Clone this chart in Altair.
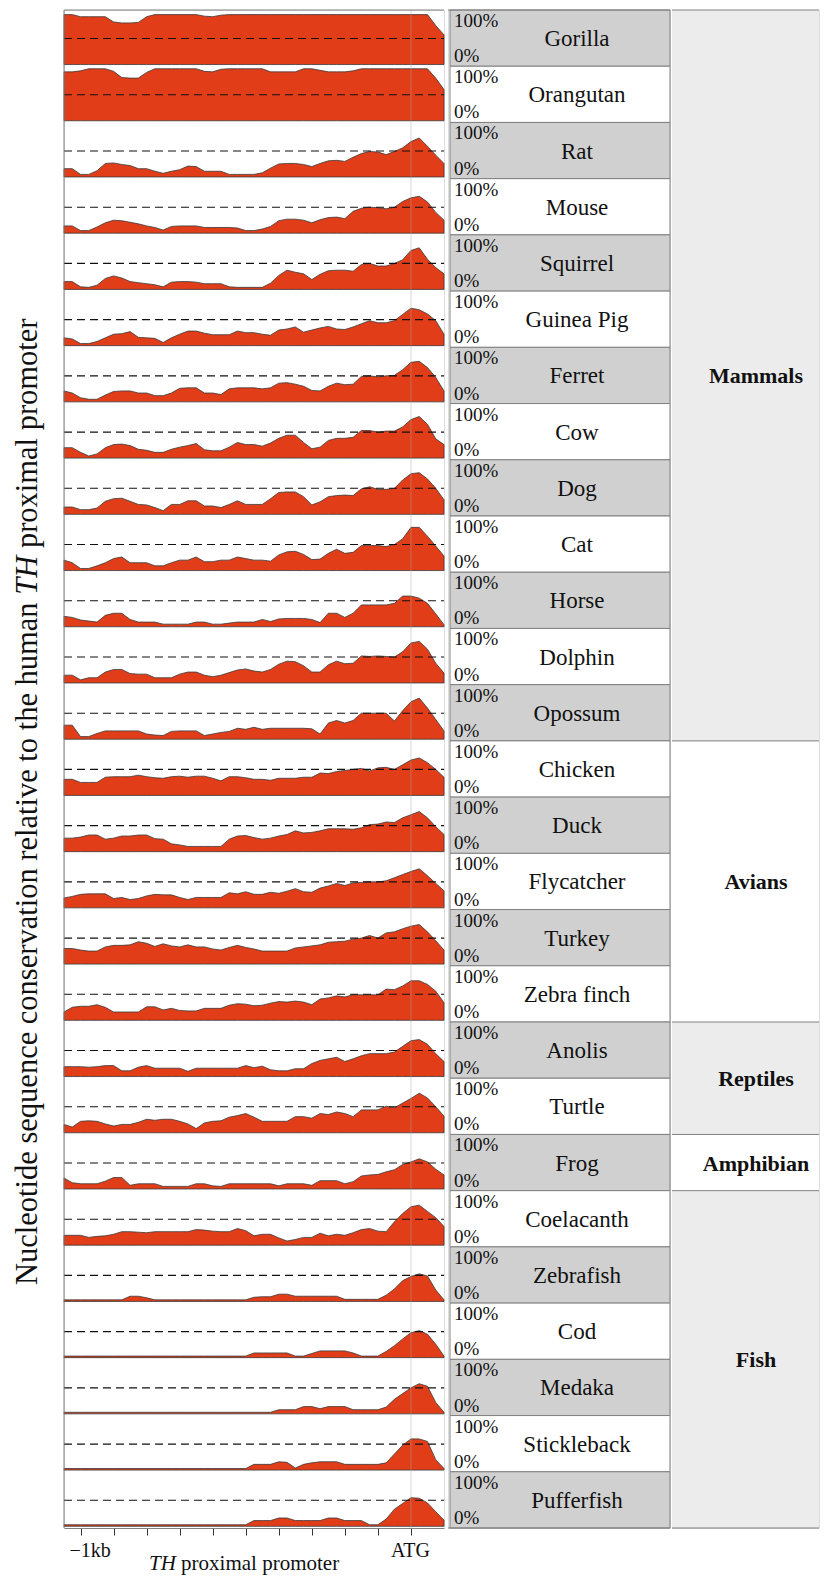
import altair as alt
import pandas as pd

# ---------------- data ----------------
SPECIES = ["Gorilla", "Orangutan", "Rat", "Mouse", "Squirrel", "Guinea Pig", "Ferret",
           "Cow", "Dog", "Cat", "Horse", "Dolphin", "Opossum", "Chicken", "Duck",
           "Flycatcher", "Turkey", "Zebra finch", "Anolis", "Turtle", "Frog",
           "Coelacanth", "Zebrafish", "Cod", "Medaka", "Stickleback", "Pufferfish"]
GROUPS = ["Mammals", "Avians", "Reptiles", "Amphibian", "Fish"]
GROUP_SIZES = [13, 5, 2, 1, 6]

# position relative to ATG (bp)
POSITION_BP = [-1050, -1025, -1000, -975, -950, -925, -900, -875, -850, -825, -800, -775,
               -750, -725, -700, -675, -650, -625, -600, -575, -550, -525, -500, -475,
               -450, -425, -400, -375, -350, -325, -300, -275, -250, -225, -200, -175,
               -150, -125, -100, -75, -50, -25, 0, 25, 50, 75, 100]
TICK_VALUES = [-1000, -900, -800, -700, -600, -500, -400, -300, -200, -100, 0]
ATG_BP = 0

# conservation (%) along the promoter
GORILLA = [96, 96, 92, 92, 92, 92, 82, 80, 80, 81, 92, 96, 96, 96, 96, 96, 96, 93, 92, 95,
           96, 96, 96, 96, 96, 96, 96, 96, 96, 96, 96, 96, 96, 96, 96, 96, 96, 96, 96, 96,
           96, 96, 96, 96, 96, 75, 57]
ORANGUTAN = [94, 94, 96, 100, 100, 100, 95, 83, 82, 82, 93, 100, 100, 100, 100, 100, 100, 95,
             94, 99, 100, 100, 100, 100, 100, 94, 94, 94, 94, 100, 100, 97, 94, 94, 94, 96,
             100, 100, 100, 100, 100, 100, 100, 100, 100, 82, 60]
RAT = [16, 16, 5, 5, 12, 26, 27, 24, 22, 16, 16, 11, 7, 11, 14, 21, 20, 11, 11, 11, 5, 5, 5,
       5, 8, 17, 25, 26, 26, 24, 20, 26, 31, 32, 30, 38, 45, 49, 48, 43, 49, 56, 68, 75, 59,
       42, 26]
MOUSE = [14, 14, 5, 5, 12, 20, 25, 24, 21, 18, 14, 11, 6, 13, 14, 14, 14, 11, 11, 11, 11, 10,
         5, 5, 8, 13, 24, 27, 27, 25, 20, 26, 30, 31, 28, 42, 48, 50, 49, 47, 50, 61, 68, 71,
         60, 40, 25]
SQUIRREL = [15, 15, 5, 4, 8, 21, 26, 22, 15, 13, 11, 9, 5, 14, 15, 15, 14, 11, 11, 11, 5, 4,
            4, 4, 4, 12, 27, 37, 33, 30, 19, 29, 36, 37, 37, 35, 48, 50, 45, 45, 50, 57, 75,
            80, 58, 42, 30]
GUINEA_PIG = [15, 13, 4, 4, 8, 15, 22, 23, 27, 16, 15, 14, 6, 15, 22, 28, 28, 24, 21, 21, 21,
              28, 25, 25, 22, 20, 30, 32, 36, 26, 30, 34, 37, 32, 31, 36, 42, 48, 44, 44, 48,
              60, 72, 69, 61, 48, 22]
FERRET = [21, 17, 8, 5, 5, 13, 20, 21, 21, 17, 17, 12, 12, 17, 26, 27, 27, 17, 17, 14, 25, 27,
          27, 27, 25, 27, 36, 37, 34, 30, 22, 21, 30, 36, 33, 34, 49, 50, 48, 50, 51, 62, 76,
          78, 66, 47, 21]
COW = [20, 20, 11, 4, 8, 20, 26, 27, 24, 17, 15, 11, 11, 17, 21, 24, 28, 16, 14, 14, 21, 30,
       26, 26, 23, 29, 38, 44, 44, 30, 18, 21, 34, 38, 38, 40, 53, 53, 50, 52, 52, 60, 74, 80,
       65, 37, 26]
DOG = [14, 14, 9, 9, 12, 25, 30, 31, 25, 19, 18, 13, 7, 19, 19, 26, 26, 16, 16, 13, 19, 26,
       19, 19, 19, 30, 42, 43, 43, 34, 18, 24, 34, 36, 37, 36, 49, 53, 48, 48, 50, 66, 78, 80,
       68, 50, 28]
CAT = [20, 15, 4, 4, 9, 15, 23, 26, 15, 15, 15, 9, 9, 15, 20, 20, 26, 17, 17, 20, 20, 26, 23,
       20, 20, 18, 30, 36, 37, 31, 21, 22, 33, 41, 33, 35, 48, 48, 48, 46, 50, 61, 83, 83, 66,
       47, 28]
HORSE = [20, 18, 13, 11, 9, 22, 26, 26, 14, 9, 9, 9, 5, 5, 5, 5, 9, 9, 5, 5, 7, 9, 9, 9, 14,
         10, 15, 16, 16, 16, 14, 8, 26, 26, 18, 26, 42, 42, 42, 42, 45, 59, 59, 55, 45, 25, 4]
DOLPHIN = [15, 15, 6, 10, 10, 21, 26, 26, 18, 17, 17, 10, 10, 10, 17, 21, 21, 15, 12, 15, 20,
           25, 27, 23, 21, 26, 36, 42, 41, 33, 21, 21, 35, 42, 37, 38, 52, 51, 52, 51, 50, 60,
           77, 80, 65, 38, 19]
OPOSSUM = [27, 27, 5, 5, 11, 16, 16, 16, 16, 16, 10, 8, 7, 15, 16, 16, 16, 7, 10, 13, 15, 21,
           19, 23, 19, 21, 21, 21, 21, 21, 20, 10, 31, 36, 31, 36, 50, 50, 50, 50, 35, 55, 72,
           79, 60, 38, 16]
CHICKEN = [31, 31, 25, 25, 25, 35, 36, 36, 36, 39, 36, 34, 33, 36, 37, 35, 37, 37, 33, 28, 36,
           36, 34, 31, 31, 29, 33, 33, 33, 35, 35, 43, 42, 46, 48, 50, 52, 47, 53, 54, 50, 59,
           68, 72, 63, 50, 35]
DUCK = [26, 26, 28, 32, 32, 24, 26, 30, 30, 32, 32, 25, 24, 15, 13, 10, 10, 10, 10, 10, 24, 30,
        31, 27, 24, 26, 30, 33, 40, 36, 37, 40, 44, 44, 44, 43, 46, 52, 53, 57, 56, 65, 71, 77,
        65, 48, 33]
FLYCATCHER = [19, 22, 26, 27, 27, 27, 18, 20, 16, 18, 23, 26, 25, 25, 20, 16, 20, 20, 20, 20,
              29, 27, 31, 26, 26, 30, 28, 32, 37, 31, 30, 38, 42, 47, 43, 48, 49, 50, 50, 52,
              58, 64, 70, 75, 62, 47, 33]
TURKEY = [30, 30, 27, 25, 25, 33, 36, 36, 37, 43, 40, 34, 39, 35, 33, 37, 33, 33, 29, 27, 32,
          36, 32, 29, 25, 25, 25, 25, 31, 33, 35, 37, 42, 43, 44, 48, 50, 55, 50, 60, 62, 68,
          73, 76, 62, 45, 27]
ZEBRA_FINCH = [16, 25, 27, 27, 30, 25, 16, 16, 16, 16, 26, 26, 20, 23, 19, 18, 18, 23, 23, 23,
               29, 32, 31, 28, 29, 33, 36, 35, 37, 35, 30, 41, 43, 47, 45, 49, 49, 49, 49, 60,
               59, 66, 76, 76, 69, 56, 34]
ANOLIS = [19, 19, 19, 18, 19, 21, 21, 11, 11, 18, 21, 16, 16, 16, 16, 10, 16, 16, 16, 16, 16,
          16, 21, 17, 20, 13, 11, 11, 15, 15, 25, 31, 34, 37, 29, 34, 40, 44, 44, 44, 47, 58,
          69, 71, 62, 44, 29]
TURTLE = [16, 11, 22, 23, 22, 17, 13, 16, 16, 20, 26, 24, 26, 26, 22, 17, 8, 19, 22, 23, 30,
          33, 37, 30, 22, 22, 22, 22, 31, 31, 28, 37, 35, 40, 37, 31, 44, 44, 44, 51, 48, 57,
          66, 76, 67, 50, 32]
FROG = [21, 12, 10, 10, 10, 15, 22, 22, 7, 10, 10, 10, 5, 5, 5, 5, 10, 10, 6, 5, 10, 10, 10,
        10, 10, 10, 6, 10, 10, 10, 7, 16, 16, 16, 10, 14, 25, 27, 28, 33, 37, 47, 52, 58, 52,
        38, 27]
COELACANTH = [19, 19, 19, 15, 17, 18, 21, 26, 26, 25, 24, 26, 26, 26, 26, 26, 30, 29, 27, 26,
              26, 32, 28, 18, 21, 21, 14, 8, 11, 15, 15, 23, 18, 21, 19, 24, 30, 32, 27, 26,
              45, 61, 74, 77, 65, 53, 36]
ZEBRAFISH = [3, 3, 3, 3, 3, 3, 3, 3, 10, 10, 7, 3, 3, 3, 3, 3, 3, 3, 3, 3, 3, 3, 3, 8, 9, 9,
             14, 14, 10, 10, 10, 10, 10, 10, 4, 4, 4, 4, 4, 12, 24, 40, 48, 53, 49, 22, 3]
COD = [3, 3, 3, 3, 3, 3, 3, 3, 3, 3, 3, 3, 3, 3, 3, 3, 3, 3, 3, 3, 3, 3, 3, 9, 9, 9, 9, 9, 3,
       3, 8, 13, 13, 13, 13, 9, 3, 3, 3, 12, 23, 36, 48, 52, 45, 26, 3]
MEDAKA = [3, 3, 3, 3, 3, 3, 3, 3, 3, 3, 3, 3, 3, 3, 3, 3, 3, 3, 3, 3, 3, 3, 3, 3, 3, 3, 8, 8,
          8, 14, 14, 10, 14, 14, 14, 8, 8, 8, 8, 13, 28, 39, 50, 58, 53, 22, 3]
STICKLEBACK = [3, 3, 3, 3, 3, 3, 3, 3, 3, 3, 3, 3, 3, 3, 3, 3, 3, 3, 3, 3, 3, 3, 3, 11, 11, 11,
               16, 15, 4, 11, 14, 16, 16, 16, 11, 11, 11, 11, 11, 14, 31, 48, 60, 60, 55, 20, 3]
PUFFERFISH = [3, 3, 3, 3, 3, 3, 3, 3, 3, 3, 3, 3, 3, 3, 3, 3, 3, 3, 3, 3, 3, 3, 3, 11, 11, 11,
              16, 16, 11, 11, 11, 11, 16, 16, 11, 11, 11, 3, 3, 14, 33, 44, 55, 54, 45, 28, 12]

SERIES = [GORILLA, ORANGUTAN, RAT, MOUSE, SQUIRREL, GUINEA_PIG, FERRET, COW, DOG, CAT, HORSE,
          DOLPHIN, OPOSSUM, CHICKEN, DUCK, FLYCATCHER, TURKEY, ZEBRA_FINCH, ANOLIS, TURTLE,
          FROG, COELACANTH, ZEBRAFISH, COD, MEDAKA, STICKLEBACK, PUFFERFISH]

# ---------------- style ----------------
RED = "#E13D19"
OUTLINE = "#3a3a3a"
BORDER = "#808080"
CELL_GRAY = "#d0d0d0"
GROUP_GRAY = "#ececec"
FONT = "Liberation Serif"
K = 0.925      # fraction of a row used by 100 %
GAP = 0.03     # gap between baseline and row boundary
N = len(SPECIES)
X_MIN, X_MAX = -1050, 100
PLOT_H = 1518
MID_W = 222
GROUP_W = 147

# ---------------- tables ----------------
rows = []
for r, (name, vals) in enumerate(zip(SPECIES, SERIES)):
    base = r + 1 - GAP
    for x, v in zip(POSITION_BP, vals):
        rows.append({"species": name, "x": x, "top": base - v / 100 * K, "base": base})
area_df = pd.DataFrame(rows)

dash_df = pd.DataFrame({"y": [r + 1 - GAP - 0.5 * K for r in range(N)],
                        "x": [X_MIN] * N, "x2": [X_MAX] * N})

xscale = alt.Scale(domain=[X_MIN, X_MAX], nice=False, zero=False)
yscale = alt.Scale(domain=[0, N], reverse=True, nice=False, zero=False)

XAXIS = alt.Axis(
    values=TICK_VALUES,
    labelExpr="datum.value == -1000 ? '\u22121kb' : (datum.value == 0 ? 'ATG' : '')",
    title=None, grid=False, domainColor=BORDER, domainWidth=1,
    tickColor="#333333", tickSize=7, tickWidth=1,
    labelFont=FONT, labelFontSize=20, labelColor="#111111", labelPadding=5,
    labelOffset={"condition": {"test": "datum.value == -1000", "value": 9}, "value": -1},
    labelFlush=False, labelOverlap=False,
)


def X(field):
    return alt.X(field, scale=xscale, axis=XAXIS)


def Y(field):
    return alt.Y(field, scale=yscale, axis=None)


ONE = pd.DataFrame({"k": [0]})


def note(text, x, y, **kw):
    return alt.Chart(ONE).mark_text(text=text, font=FONT, color="#111111", **kw).encode(
        x=alt.value(x), y=alt.value(y))


areas = alt.Chart(area_df).mark_area(fill=RED, stroke=OUTLINE, strokeWidth=0.8).encode(
    x=X("x:Q"), y=Y("top:Q"), y2="base:Q", detail="species:N")

dashes = alt.Chart(dash_df).mark_rule(color="#111111", strokeDash=[8, 5], strokeWidth=1.1).encode(
    x=X("x:Q"), x2="x2:Q", y=Y("y:Q"))

atg = alt.Chart(pd.DataFrame({"x": [ATG_BP], "y": [0], "y2": [N]})).mark_rule(
    color="#aaaaaa", opacity=0.3, strokeWidth=1.5).encode(x=X("x:Q"), y=Y("y:Q"), y2="y2:Q")

top_rule = alt.Chart(pd.DataFrame({"x": [X_MIN], "x2": [X_MAX], "y": [0]})).mark_rule(
    color=BORDER, strokeWidth=1).encode(x=X("x:Q"), x2="x2:Q", y=Y("y:Q"))
left_rule = alt.Chart(pd.DataFrame({"x": [X_MIN], "y": [0], "y2": [N]})).mark_rule(
    color=BORDER, strokeWidth=1).encode(x=X("x:Q"), y=Y("y:Q"), y2="y2:Q")

# y title (rotated, with italic TH)
YT = 30.5
Y0 = 1275
ytitle = [
    note("Nucleotide sequence conservation relative to the human", -36, Y0,
         angle=270, align="left", baseline="middle", fontSize=YT),
    note("TH", -36, Y0 - 22.634 * YT, angle=270, align="left", baseline="middle",
         fontSize=YT, fontStyle="italic"),
    note("proximal promoter", -36, Y0 - 24.162 * YT, angle=270, align="left",
         baseline="middle", fontSize=YT),
]
# x title (with italic TH)
XT = 21
XX0 = 85
XY = 1560
xtitle = [
    note("TH", XX0, XY, align="left", baseline="alphabetic", fontSize=XT, fontStyle="italic"),
    note("proximal promoter", XX0 + 1.528 * XT, XY, align="left", baseline="alphabetic",
         fontSize=XT),
]

left = alt.layer(areas, dashes, atg, top_rule, left_rule, *ytitle, *xtitle).properties(
    width=380, height=PLOT_H)

# ---------------- species label column ----------------
cell_df = pd.DataFrame({
    "species": SPECIES,
    "r": list(range(N)),
    "r1": [r + 1 for r in range(N)],
    "mid": [r + 0.5 for r in range(N)],
    "fill": [CELL_GRAY if r % 2 == 0 else "white" for r in range(N)],
})

cells = alt.Chart(cell_df).mark_rect(stroke=BORDER, strokeWidth=1).encode(
    x=alt.value(2), x2=alt.value(MID_W), y=Y("r:Q"), y2="r1:Q",
    fill=alt.Color("fill:N", scale=None))
names = alt.Chart(cell_df).mark_text(font=FONT, fontSize=23, align="center",
                                     baseline="middle", dy=1, color="#111111").encode(
    x=alt.value(129), y=Y("mid:Q"), text="species:N")
pct100 = alt.Chart(cell_df).mark_text(text="100%", font=FONT, fontSize=19, align="left",
                                      baseline="top", dy=2, color="#111111").encode(
    x=alt.value(6), y=Y("r:Q"))
pct0 = alt.Chart(cell_df).mark_text(text="0%", font=FONT, fontSize=19, align="left",
                                    baseline="alphabetic", dy=-4, color="#111111").encode(
    x=alt.value(6), y=Y("r1:Q"))
mid_lines = alt.Chart(pd.DataFrame({"y": [0, N]})).mark_rule(color=BORDER).encode(
    x=alt.value(0), x2=alt.value(MID_W), y=Y("y:Q"))

middle = alt.layer(cells, names, pct100, pct0, mid_lines).properties(width=MID_W, height=PLOT_H)

# ---------------- group column ----------------
starts, ends = [], []
acc = 0
for s in GROUP_SIZES:
    starts.append(acc)
    acc += s
    ends.append(acc)
group_df = pd.DataFrame({
    "group": GROUPS, "start": starts, "end": ends,
    "mid": [(a + b) / 2 for a, b in zip(starts, ends)],
    "fill": [GROUP_GRAY if i % 2 == 0 else "white" for i in range(len(GROUPS))],
})
bounds_df = pd.DataFrame({"y": [0] + ends})

gcells = alt.Chart(group_df).mark_rect().encode(
    x=alt.value(0), x2=alt.value(GROUP_W), y=Y("start:Q"), y2="end:Q",
    fill=alt.Color("fill:N", scale=None))
glines = alt.Chart(bounds_df).mark_rule(color=BORDER).encode(
    x=alt.value(0), x2=alt.value(GROUP_W), y=Y("y:Q"))
gnames = alt.Chart(group_df).mark_text(font=FONT, fontSize=22, fontWeight="bold",
                                       align="center", baseline="middle", dy=1,
                                       color="#111111").encode(
    x=alt.value(84), y=Y("mid:Q"), text="group:N")

right = alt.layer(gcells, glines, gnames).properties(width=GROUP_W, height=PLOT_H)

chart = alt.hconcat(left, middle, right, spacing=0).properties(
    padding={"left": 4, "top": 0, "right": 0, "bottom": 0}
).configure_view(stroke=None).configure(font=FONT)

chart.save("out.html", embed_options={"renderer": "svg", "actions": False})
